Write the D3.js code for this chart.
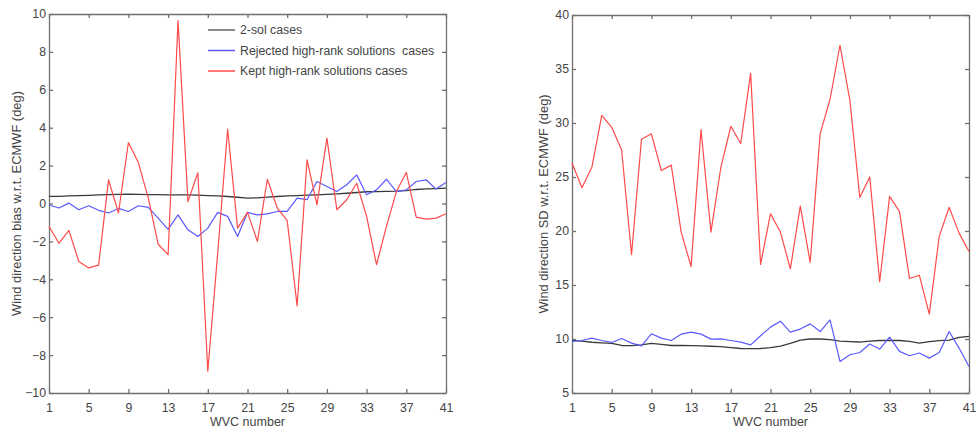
<!DOCTYPE html>
<html>
<head>
<meta charset="utf-8">
<script src="https://cdn.jsdelivr.net/npm/d3@7"></script>
<style>
  body { margin: 0; background: #fff; }
  text { font-family: "Liberation Sans", Arial, sans-serif; }
</style>
</head>
<body>
<div id="chart"></div>
<script>
// WVC numbers 1..41
const wvc = d3.range(1, 42);
const xTicks = [1, 5, 9, 13, 17, 21, 25, 29, 33, 37, 41];

// left panel: wind direction bias (deg)
const biasTwoSol = [0.38, 0.38, 0.40, 0.42, 0.43, 0.45, 0.47, 0.48, 0.49, 0.48,
  0.47, 0.47, 0.46, 0.46, 0.46, 0.44, 0.42, 0.40, 0.37, 0.33,
  0.28, 0.30, 0.34, 0.37, 0.40, 0.42, 0.44, 0.46, 0.48, 0.51,
  0.54, 0.58, 0.62, 0.63, 0.64, 0.65, 0.68, 0.74, 0.77, 0.79, 0.81];
const biasRejected = [-0.08, -0.24, 0.02, -0.33, -0.12, -0.36, -0.5, -0.26, -0.42, -0.12,
  -0.2, -0.77, -1.37, -0.6, -1.39, -1.74, -1.3, -0.47, -0.68, -1.74,
  -0.47, -0.6, -0.55, -0.42, -0.42, 0.28, 0.2, 1.16, 0.9, 0.63,
  0.99, 1.51, 0.46, 0.72, 1.28, 0.63, 0.72, 1.16, 1.25, 0.76, 1.11];
const biasKept = [-1.2, -2.1, -1.42, -3.06, -3.4, -3.25, 1.25, -0.5, 3.22, 2.16,
  0.3, -2.15, -2.7, 9.65, 0.1, 1.62, -8.85, -2.6, 3.92, -1.3,
  -0.47, -2.0, 1.28, -0.24, -0.9, -5.4, 2.3, -0.07, 3.45, -0.33,
  0.2, 1.07, -0.68, -3.23, -1.21, 0.63, 1.64, -0.72, -0.82, -0.77, -0.54];
const biasTicks = [-10, -8, -6, -4, -2, 0, 2, 4, 6, 8, 10];

// right panel: wind direction SD (deg)
const sdTwoSol = [9.85, 9.8, 9.7, 9.65, 9.6, 9.4, 9.38, 9.45, 9.6, 9.5,
  9.4, 9.4, 9.38, 9.36, 9.33, 9.3, 9.2, 9.12, 9.1, 9.12,
  9.2, 9.35, 9.6, 9.9, 10.0, 10.0, 9.95, 9.8, 9.75, 9.72,
  9.8, 9.86, 9.86, 9.86, 9.78, 9.62, 9.75, 9.85, 9.9, 10.15, 10.25];
const sdRejected = [9.77, 9.86, 10.08, 9.86, 9.68, 10.05, 9.62, 9.37, 10.48, 10.08,
  9.86, 10.45, 10.64, 10.45, 9.99, 10.02, 9.86, 9.71, 9.46, 10.3,
  11.1, 11.65, 10.64, 10.92, 11.4, 10.69, 11.77, 7.92, 8.54, 8.75,
  9.53, 9.07, 10.17, 8.85, 8.45, 8.7, 8.23, 8.75, 10.69, 9.16, 7.46];
const sdKept = [26.3, 24.0, 25.9, 30.7, 29.6, 27.5, 17.8, 28.5, 29.0, 25.6,
  26.1, 19.9, 16.7, 29.4, 19.9, 25.9, 29.7, 28.1, 34.6, 16.9,
  21.6, 19.9, 16.5, 22.3, 17.1, 29.0, 32.2, 37.2, 32.1, 23.1,
  25.0, 15.3, 23.2, 21.8, 15.6, 15.9, 12.3, 19.5, 22.2, 19.8, 18.1];
const sdTicks = [5, 10, 15, 20, 25, 30, 35, 40];

const seriesNames = ['2-sol cases', 'Rejected high-rank solutions  cases', 'Kept high-rank solutions cases'];
const seriesColors = ['#3a3a3a', '#5a5aff', '#ff4a4a'];

const svg = d3.select('#chart').append('svg')
  .attr('width', 976)
  .attr('height', 430);

function drawPanel(cfg) {
  const x = d3.scaleLinear().domain([1, 41]).range([cfg.left, cfg.right]);
  const y = d3.scaleLinear().domain(cfg.yDomain).range([cfg.bottom, cfg.top]);
  const g = svg.append('g');

  const axes = [
    {axis: d3.axisBottom(x).tickValues(xTicks).tickSize(-4).tickPadding(10), t: `translate(0,${cfg.bottom})`},
    {axis: d3.axisTop(x).tickValues(xTicks).tickSize(-4).tickFormat(''), t: `translate(0,${cfg.top})`},
    {axis: d3.axisLeft(y).tickValues(cfg.yTicks).tickSize(-4).tickPadding(3), t: `translate(${cfg.left},0)`},
    {axis: d3.axisRight(y).tickValues(cfg.yTicks).tickSize(-4).tickFormat(''), t: `translate(${cfg.right},0)`}
  ];
  axes.forEach(a => {
    const ag = g.append('g').attr('transform', a.t).call(a.axis.tickSizeOuter(0));
    ag.selectAll('path, line').attr('stroke', '#707070').attr('stroke-width', 1.3);
    ag.selectAll('text').attr('fill', '#444').style('font-size', '12.3px');
  });

  const line = d3.line().x((d, i) => x(wvc[i])).y(d => y(d));
  cfg.series.forEach((s, k) => {
    g.append('path')
      .datum(s)
      .attr('fill', 'none')
      .attr('stroke', seriesColors[k])
      .attr('stroke-width', k === 0 ? 1.3 : 1.2)
      .attr('stroke-linejoin', 'round')
      .attr('d', line);
  });

  g.append('text')
    .attr('x', (cfg.left + cfg.right) / 2)
    .attr('y', 426)
    .attr('text-anchor', 'middle')
    .attr('fill', '#444')
    .style('font-size', '12.5px')
    .text('WVC number');

  g.append('text')
    .attr('transform', `translate(${cfg.left - cfg.labelOffset},${(cfg.top + cfg.bottom) / 2}) rotate(-90)`)
    .attr('text-anchor', 'middle')
    .attr('fill', '#444')
    .style('font-size', '12.9px')
    .text(cfg.yLabel);

  return {x, y, g};
}

const leftPanel = drawPanel({
  left: 49, right: 446, top: 14, bottom: 393,
  yDomain: [-10, 10], yTicks: biasTicks, labelOffset: 28,
  series: [biasTwoSol, biasRejected, biasKept],
  yLabel: 'Wind direction bias w.r.t. ECMWF (deg)'
});

drawPanel({
  left: 572, right: 969, top: 15, bottom: 393,
  yDomain: [5, 40], yTicks: sdTicks, labelOffset: 24,
  series: [sdTwoSol, sdRejected, sdKept],
  yLabel: 'Wind direction SD w.r.t. ECMWF (deg)'
});

// legend (no box)
const legend = leftPanel.g.append('g').attr('transform', 'translate(208,30)');
seriesNames.forEach((name, k) => {
  const row = legend.append('g').attr('transform', `translate(0,${k * 20.5})`);
  row.append('line')
    .attr('x1', 0).attr('x2', 27)
    .attr('stroke', k === 0 ? '#8a8a8a' : seriesColors[k])
    .attr('stroke-width', k === 0 ? 2 : 1.5);
  row.append('text')
    .attr('x', 32).attr('y', 4)
    .attr('fill', '#444')
    .style('font-size', '12.3px')
    .style('white-space', 'pre')
    .text(name);
});
</script>
</body>
</html>
